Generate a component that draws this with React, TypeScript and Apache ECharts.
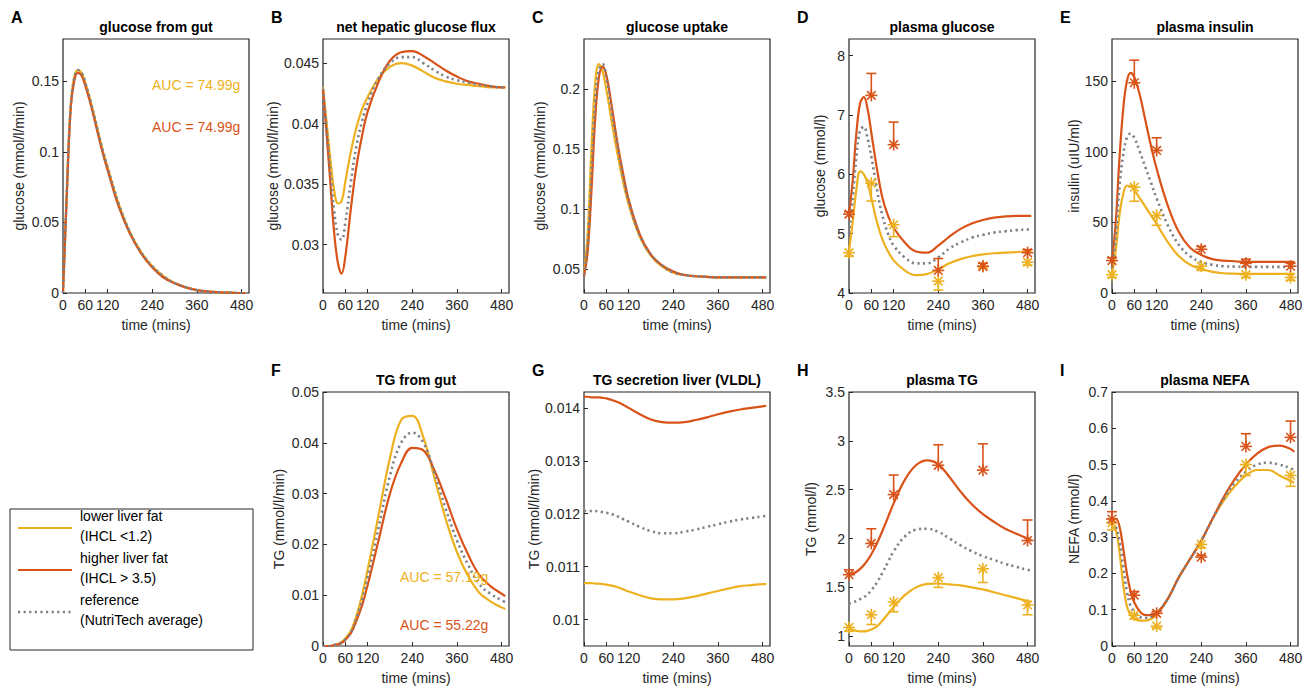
import React, { useEffect, useRef } from "react";
import * as echarts from "echarts";

// shared model time grid (mins) and measurement times
const T = [0, 10, 20, 30, 40, 50, 60, 75, 90, 105, 120, 150, 180, 210, 240, 270, 300, 330, 360, 390, 420, 450, 480, 490];
const TP = [0, 60, 120, 240, 360, 480];

// A glucose from gut
const gutY = [0, 0.07, 0.13, 0.153, 0.158, 0.156, 0.149, 0.135, 0.119, 0.103, 0.089, 0.063, 0.043, 0.029, 0.019, 0.012, 0.007, 0.004, 0.002, 0.001, 0.0005, 0.0002, 0, 0];
const gutR = [0, 0.068, 0.128, 0.15, 0.156, 0.154, 0.147, 0.133, 0.117, 0.101, 0.087, 0.061, 0.042, 0.028, 0.018, 0.011, 0.007, 0.004, 0.002, 0.001, 0.0005, 0.0002, 0, 0];
const gutG = [0, 0.069, 0.129, 0.152, 0.158, 0.156, 0.149, 0.135, 0.119, 0.103, 0.089, 0.063, 0.043, 0.029, 0.019, 0.012, 0.007, 0.004, 0.002, 0.001, 0.0005, 0.0002, 0, 0];
// B net hepatic glucose flux
const hepY = [0.043, 0.04, 0.037, 0.0345, 0.0334, 0.0336, 0.0352, 0.0377, 0.0397, 0.0412, 0.0422, 0.0438, 0.0447, 0.045, 0.0448, 0.0443, 0.0438, 0.0435, 0.0433, 0.0432, 0.0431, 0.043, 0.043, 0.043];
const hepR = [0.0428, 0.039, 0.035, 0.031, 0.0285, 0.0276, 0.029, 0.033, 0.0365, 0.039, 0.041, 0.0435, 0.0452, 0.0459, 0.046, 0.0456, 0.045, 0.0444, 0.0439, 0.0435, 0.0433, 0.0431, 0.043, 0.043];
const hepG = [0.0429, 0.0395, 0.036, 0.0328, 0.0308, 0.0304, 0.0318, 0.0352, 0.0382, 0.0402, 0.0417, 0.0438, 0.045, 0.0455, 0.0455, 0.045, 0.0444, 0.0439, 0.0436, 0.0434, 0.0432, 0.0431, 0.043, 0.043];
// C glucose uptake
const uptY = [0.045, 0.08, 0.15, 0.205, 0.221, 0.215, 0.2, 0.172, 0.146, 0.123, 0.104, 0.077, 0.061, 0.052, 0.047, 0.045, 0.044, 0.0435, 0.043, 0.043, 0.043, 0.043, 0.043, 0.043];
const uptR = [0.044, 0.065, 0.115, 0.175, 0.21, 0.219, 0.212, 0.185, 0.155, 0.13, 0.108, 0.079, 0.062, 0.053, 0.048, 0.045, 0.044, 0.0435, 0.043, 0.043, 0.043, 0.043, 0.043, 0.043];
const uptG = [0.045, 0.072, 0.13, 0.19, 0.216, 0.221, 0.21, 0.18, 0.152, 0.127, 0.106, 0.078, 0.062, 0.053, 0.047, 0.045, 0.044, 0.0435, 0.043, 0.043, 0.043, 0.043, 0.043, 0.043];
// D plasma glucose
const pgY = [4.7, 5.2, 5.75, 6.05, 6.0, 5.85, 5.6, 5.2, 4.9, 4.7, 4.55, 4.38, 4.3, 4.32, 4.4, 4.5, 4.57, 4.62, 4.65, 4.67, 4.68, 4.69, 4.7, 4.7];
const pgR = [5.3, 5.9, 6.7, 7.2, 7.3, 7.1, 6.7, 6.1, 5.6, 5.3, 5.1, 4.85, 4.7, 4.68, 4.8, 4.95, 5.08, 5.17, 5.23, 5.27, 5.29, 5.3, 5.3, 5.3];
const pgG = [5.0, 5.6, 6.3, 6.75, 6.8, 6.6, 6.3, 5.75, 5.3, 5.0, 4.8, 4.6, 4.5, 4.5, 4.6, 4.75, 4.85, 4.93, 4.98, 5.02, 5.04, 5.06, 5.07, 5.07];
const pgPtY = [4.68, 5.85, 5.15, 4.2, 4.45, 4.52];
const pgErrY = [4.62, 5.55, 4.95, 4.05, 4.42, 4.47];
const pgPtR = [5.33, 7.33, 6.5, 4.38, 4.45, 4.68];
const pgErrR = [5.37, 7.7, 6.88, 4.58, 4.5, 4.73];
// E plasma insulin
const insY = [13, 30, 55, 70, 76, 76, 73, 67, 61, 55, 49, 36, 26, 20, 17, 15, 14, 13.7, 13.5, 13.5, 13.5, 13.5, 13.5, 13.5];
const insR = [22, 50, 95, 130, 150, 156, 153, 140, 122, 104, 88, 62, 43, 32, 27, 24, 23, 22.5, 22, 22, 22, 22, 22, 22];
const insG = [18, 40, 75, 98, 110, 113, 110, 100, 89, 78, 67, 48, 34, 26, 22, 20, 19, 18.7, 18.5, 18.5, 18.5, 18.5, 18.5, 18.5];
const insPtY = [13, 75, 55, 19, 13, 11];
const insErrY = [11, 65, 48, 16, 11, 9];
const insPtR = [23, 149, 101, 31, 21, 19];
const insErrR = [25, 165, 110, 33, 24, 21];
// F TG from gut
const tgGutY = [0, 0, 0, 0.0002, 0.0004, 0.0008, 0.0015, 0.003, 0.006, 0.01, 0.015, 0.026, 0.037, 0.0445, 0.0453, 0.041, 0.033, 0.025, 0.0185, 0.0138, 0.0105, 0.0088, 0.0076, 0.0073];
const tgGutR = [0, 0, 0, 0.0002, 0.0003, 0.0006, 0.0012, 0.0025, 0.005, 0.008, 0.012, 0.021, 0.03, 0.036, 0.039, 0.0385, 0.0345, 0.029, 0.023, 0.018, 0.014, 0.0118, 0.0103, 0.0098];
const tgGutG = [0, 0, 0, 0.0002, 0.0004, 0.0007, 0.0013, 0.0027, 0.0055, 0.009, 0.0135, 0.0235, 0.0335, 0.04, 0.042, 0.04, 0.034, 0.027, 0.0208, 0.016, 0.0122, 0.0103, 0.009, 0.0086];
// G TG secretion liver
const vldlY = [0.01069, 0.01069, 0.01069, 0.01068, 0.01068, 0.01067, 0.01066, 0.01064, 0.01061, 0.01057, 0.01053, 0.01046, 0.0104, 0.01038, 0.01038, 0.0104, 0.01044, 0.01049, 0.01054, 0.01059, 0.01063, 0.01065, 0.01067, 0.01067];
const vldlR = [0.01421, 0.01421, 0.0142, 0.0142, 0.0142, 0.01419, 0.01418, 0.01415, 0.01411, 0.01406, 0.014, 0.01388, 0.01378, 0.01373, 0.01372, 0.01373, 0.01377, 0.01382, 0.01388, 0.01393, 0.01397, 0.014, 0.01403, 0.01404];
const vldlG = [0.01205, 0.01205, 0.01205, 0.01205, 0.01204, 0.01203, 0.01202, 0.01199, 0.01195, 0.0119, 0.01185, 0.01175, 0.01167, 0.01163, 0.01163, 0.01166, 0.0117, 0.01175, 0.0118, 0.01185, 0.01189, 0.01192, 0.01195, 0.01196];
// H plasma TG
const ptgY = [1.08, 1.065, 1.055, 1.05, 1.05, 1.055, 1.07, 1.1, 1.16, 1.23, 1.3, 1.42, 1.5, 1.535, 1.54, 1.53, 1.52, 1.5, 1.48, 1.45, 1.42, 1.39, 1.36, 1.35];
const ptgR = [1.62, 1.64, 1.66, 1.69, 1.73, 1.78, 1.84, 1.95, 2.08, 2.22, 2.36, 2.6, 2.75, 2.8, 2.76, 2.63, 2.48, 2.35, 2.25, 2.17, 2.1, 2.05, 2.0, 1.98];
const ptgG = [1.33, 1.35, 1.36, 1.38, 1.4, 1.43, 1.47, 1.55, 1.65, 1.76, 1.87, 2.02, 2.09, 2.1, 2.07, 2.0, 1.93, 1.87, 1.82, 1.78, 1.74, 1.71, 1.68, 1.67];
const ptgPtY = [1.09, 1.22, 1.35, 1.6, 1.69, 1.32];
const ptgErrY = [1.05, 1.12, 1.25, 1.5, 1.55, 1.22];
const ptgPtR = [1.63, 1.95, 2.45, 2.75, 2.7, 1.98];
const ptgErrR = [1.68, 2.1, 2.65, 2.96, 2.97, 2.19];
// I plasma NEFA
const nefaY = [0.33, 0.32, 0.26, 0.17, 0.11, 0.085, 0.075, 0.07, 0.07, 0.075, 0.085, 0.13, 0.19, 0.24, 0.29, 0.35, 0.4, 0.44, 0.47, 0.485, 0.485, 0.47, 0.455, 0.45];
const nefaR = [0.35, 0.35, 0.33, 0.27, 0.2, 0.15, 0.12, 0.095, 0.085, 0.085, 0.09, 0.13, 0.19, 0.24, 0.29, 0.35, 0.41, 0.46, 0.5, 0.53, 0.548, 0.552, 0.543, 0.535];
const nefaG = [0.34, 0.33, 0.29, 0.22, 0.15, 0.11, 0.095, 0.08, 0.077, 0.08, 0.088, 0.13, 0.19, 0.24, 0.29, 0.35, 0.405, 0.45, 0.48, 0.5, 0.505, 0.5, 0.49, 0.485];
const nefaPtY = [0.34, 0.085, 0.055, 0.28, 0.5, 0.47];
const nefaErrY = [0.32, 0.075, 0.05, 0.27, 0.47, 0.44];
const nefaPtR = [0.35, 0.14, 0.09, 0.245, 0.55, 0.575];
const nefaErrR = [0.37, 0.15, 0.095, 0.25, 0.585, 0.62];

const X_TICKS = [0, 60, 120, 240, 360, 480];
const YEL = "#EDB120";
const RED = "#D95319";
const GRY = "#7d8189";
const FONT = "Liberation Sans, Arial, sans-serif";

const panels = [
  { letter: "A", title: "glucose from gut", yName: "glucose (mmol/l/min)", min: 0, max: 0.18, ticks: [0, 0.05, 0.1, 0.15], left: 63, top: 39, gap: 37, lines: [gutY, gutR, gutG] },
  { letter: "B", title: "net hepatic glucose flux", yName: "glucose (mmol/l/min)", min: 0.026, max: 0.047, ticks: [0.03, 0.035, 0.04, 0.045], left: 323, top: 39, gap: 43, lines: [hepY, hepR, hepG] },
  { letter: "C", title: "glucose uptake", yName: "glucose (mmol/l/min)", min: 0.03, max: 0.242, ticks: [0.05, 0.1, 0.15, 0.2], left: 584, top: 39, gap: 37, lines: [uptY, uptR, uptG] },
  { letter: "D", title: "plasma glucose", yName: "glucose (mmol/l)", min: 4, max: 8.28, ticks: [4, 5, 6, 7, 8], left: 849, top: 39, gap: 22, lines: [pgY, pgR, pgG], pts: [pgPtY, pgErrY, pgPtR, pgErrR] },
  { letter: "E", title: "plasma insulin", yName: "insulin (uIU/ml)", min: 0, max: 180, ticks: [0, 50, 100, 150], left: 1112, top: 39, gap: 31, lines: [insY, insR, insG], pts: [insPtY, insErrY, insPtR, insErrR] },
  { letter: "F", title: "TG from gut", yName: "TG (mmol/l/min)", min: 0, max: 0.05, ticks: [0, 0.01, 0.02, 0.03, 0.04, 0.05], left: 323, top: 392, gap: 37, lines: [tgGutY, tgGutR, tgGutG] },
  { letter: "G", title: "TG secretion liver (VLDL)", yName: "TG (mmol/l/min)", min: 0.0095, max: 0.0143, ticks: [0.01, 0.011, 0.012, 0.013, 0.014], left: 584, top: 392, gap: 43, lines: [vldlY, vldlR, vldlG] },
  { letter: "H", title: "plasma TG", yName: "TG (mmol/l)", min: 0.9, max: 3.5, ticks: [1, 1.5, 2, 2.5, 3, 3.5], left: 849, top: 392, gap: 31, lines: [ptgY, ptgR, ptgG], pts: [ptgPtY, ptgErrY, ptgPtR, ptgErrR] },
  { letter: "I", title: "plasma NEFA", yName: "NEFA (mmol/l)", min: 0, max: 0.7, ticks: [0, 0.1, 0.2, 0.3, 0.4, 0.5, 0.6, 0.7], left: 1112, top: 392, gap: 31, lines: [nefaY, nefaR, nefaG], pts: [nefaPtY, nefaErrY, nefaPtR, nefaErrR] },
];

const W = 186;
const H = 254;

function markerSeries(i: number, pts: number[], errs: number[], color: string) {
  return {
    type: "custom",
    xAxisIndex: i,
    yAxisIndex: i,
    z: 5,
    data: TP.map((t, k) => [t, pts[k], errs[k]]),
    renderItem: (_p: any, api: any) => {
      const p = api.coord([api.value(0), api.value(1)]);
      const e = api.coord([api.value(0), api.value(2)]);
      const s = { stroke: color, lineWidth: 1.6 };
      const r = 6;
      const d = 4.3;
      const c = 5;
      const seg = (x1: number, y1: number, x2: number, y2: number) => ({ type: "line", shape: { x1, y1, x2, y2 }, style: s });
      return {
        type: "group",
        children: [
          seg(p[0], p[1], e[0], e[1]),
          seg(e[0] - c, e[1], e[0] + c, e[1]),
          seg(p[0] - r, p[1], p[0] + r, p[1]),
          seg(p[0], p[1] - r, p[0], p[1] + r),
          seg(p[0] - d, p[1] - d, p[0] + d, p[1] + d),
          seg(p[0] - d, p[1] + d, p[0] + d, p[1] - d),
        ],
      };
    },
  };
}

export default function App() {
  const ref = useRef<HTMLDivElement>(null);

  useEffect(() => {
    if (!ref.current) return;
    const chart = echarts.init(ref.current, null, { renderer: "svg" });
    const grid: any[] = [];
    const xAxis: any[] = [];
    const yAxis: any[] = [];
    const series: any[] = [];
    const graphic: any[] = [];
    const axisText = { color: "#262626", fontSize: 14, fontFamily: FONT };

    panels.forEach((p, i) => {
      grid.push({ left: p.left, top: p.top, width: W, height: H, show: true, borderColor: "#262626", borderWidth: 1.2, backgroundColor: "#fff" });
      xAxis.push({
        type: "value", gridIndex: i, min: 0, max: 500,
        name: "time (mins)", nameLocation: "middle", nameGap: 25, nameTextStyle: axisText,
        axisLine: { show: false }, splitLine: { show: false },
        axisTick: { inside: true, length: 4, lineStyle: { color: "#262626" }, customValues: X_TICKS },
        axisLabel: { ...axisText, margin: 5, customValues: X_TICKS, formatter: (v: number) => String(v) },
      });
      yAxis.push({
        type: "value", gridIndex: i, min: p.min, max: p.max,
        name: p.yName, nameLocation: "middle", nameGap: p.gap, nameTextStyle: axisText,
        axisLine: { show: false }, splitLine: { show: false },
        axisTick: { inside: true, length: 4, lineStyle: { color: "#262626" }, customValues: p.ticks },
        axisLabel: { ...axisText, margin: 4, customValues: p.ticks, formatter: (v: number) => String(v) },
      });
      const cols = [YEL, RED, GRY];
      p.lines.forEach((vals, k) => {
        series.push({
          type: "line", xAxisIndex: i, yAxisIndex: i, smooth: 0.4, symbol: "none", z: k === 2 ? 4 : 3,
          data: T.map((t, j) => [t, vals[j]]),
          lineStyle: k === 2 ? { color: GRY, width: 2.6, type: [2.2, 3.4], cap: "butt" } : { color: cols[k], width: 2.2 },
        });
      });
      if (p.pts) {
        series.push(markerSeries(i, p.pts[0], p.pts[1], YEL));
        series.push(markerSeries(i, p.pts[2], p.pts[3], RED));
      }
      graphic.push({ type: "text", x: p.left + W / 2, y: p.top - 19, style: { text: p.title, font: `bold 14px ${FONT}`, fill: "#000", textAlign: "center" } });
      graphic.push({ type: "text", x: p.left - 52, y: p.top - 30, style: { text: p.letter, font: `bold 16px ${FONT}`, fill: "#000" } });
    });

    // AUC labels
    const auc = [
      { t: "AUC = 74.99g", x: 152, y: 78, c: YEL },
      { t: "AUC = 74.99g", x: 152, y: 120, c: RED },
      { t: "AUC = 57.19g", x: 400, y: 570, c: YEL },
      { t: "AUC = 55.22g", x: 400, y: 618, c: RED },
    ];
    auc.forEach((a) => graphic.push({ type: "text", z: 100, x: a.x, y: a.y, style: { text: a.t, font: `14px ${FONT}`, fill: a.c } }));

    // legend box
    graphic.push({ type: "rect", shape: { x: 10, y: 509, width: 243, height: 141 }, style: { fill: "#fff", stroke: "#262626", lineWidth: 1 } });
    const leg = [
      { c: YEL, a: "lower liver fat", b: "(IHCL <1.2)", y: 528, dot: false },
      { c: RED, a: "higher liver fat", b: "(IHCL > 3.5)", y: 570, dot: false },
      { c: GRY, a: "reference", b: "(NutriTech average)", y: 612, dot: true },
    ];
    leg.forEach((l) => {
      graphic.push({ type: "line", shape: { x1: 18, y1: l.y, x2: 72, y2: l.y }, style: l.dot ? { stroke: GRY, lineWidth: 2.6, lineDash: [2.2, 3.4] } : { stroke: l.c, lineWidth: 2.2 } });
      graphic.push({ type: "text", x: 80, y: l.y - 19, style: { text: l.a, font: `14px ${FONT}`, fill: "#000" } });
      graphic.push({ type: "text", x: 80, y: l.y + 1, style: { text: l.b, font: `14px ${FONT}`, fill: "#000" } });
    });

    chart.setOption({ animation: false, backgroundColor: "#fff", grid, xAxis, yAxis, series, graphic });
    return () => chart.dispose();
  }, []);

  return <div ref={ref} style={{ width: 1311, height: 688, position: "absolute", left: 0, top: 0 }} />;
}
